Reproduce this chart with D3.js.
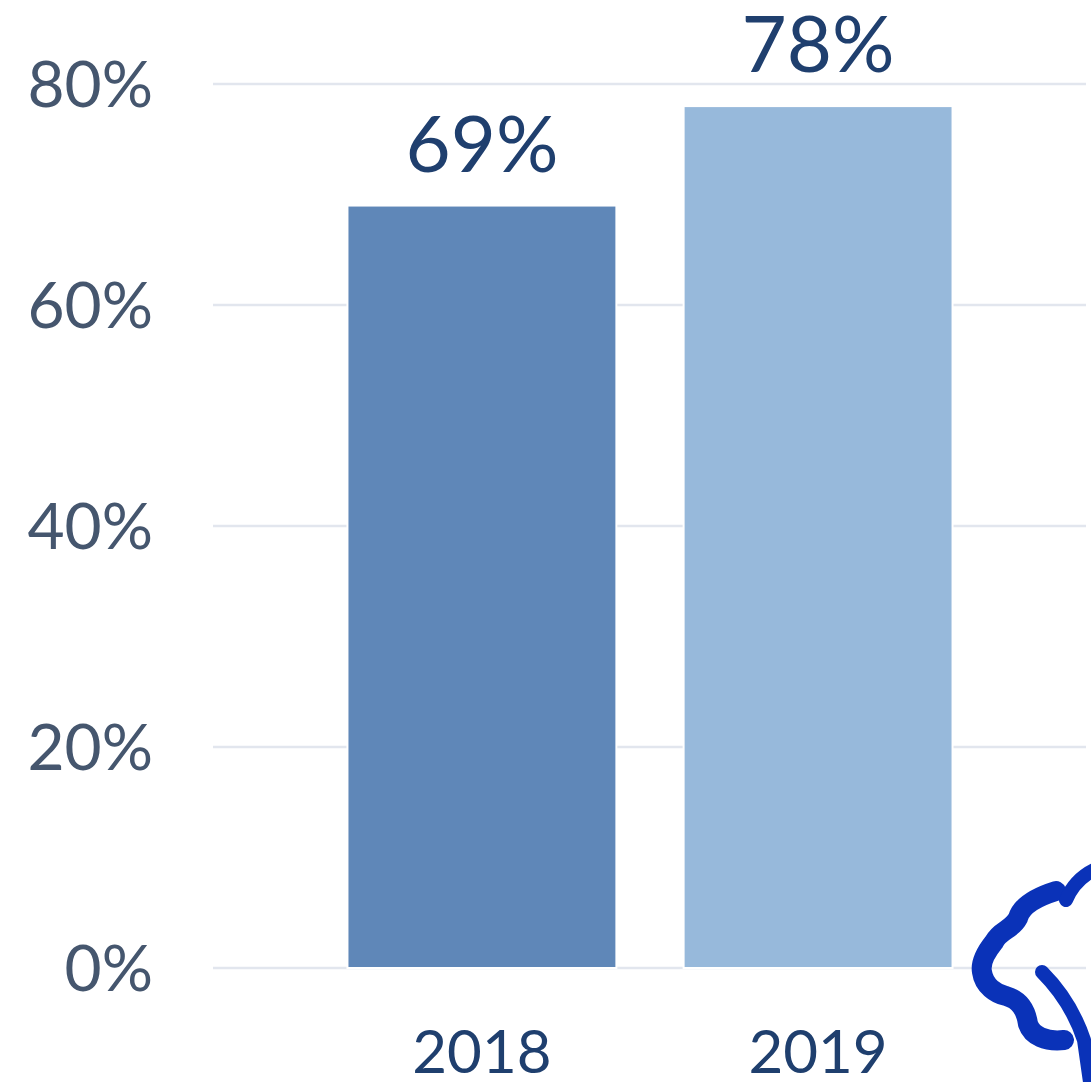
<!DOCTYPE html>
<html>
<head>
<meta charset="utf-8">
<script src="https://cdn.jsdelivr.net/npm/d3@7"></script>
<style>
  body { margin: 0; background: #fff; }
  svg { display: block; }
</style>
</head>
<body>
<script>
const width = 1091;
const height = 1082;

// data
const years = ['2018', '2019'];
const shares = [69, 78];
const yTicks = [0, 20, 40, 60, 80];
const barColors = ['#5f87b8', '#97b9db'];

const svg = d3.select('body').append('svg')
  .attr('width', width)
  .attr('height', height);

const x = d3.scaleBand()
  .domain(years)
  .range([213, 1087])
  .paddingInner(0.2)
  .paddingOuter(0.4);

const y = d3.scaleLinear()
  .domain([0, 80])
  .range([968, 84]);

// gridlines
svg.append('g')
  .selectAll('line')
  .data(yTicks)
  .enter().append('line')
    .attr('x1', 213)
    .attr('x2', 1086)
    .attr('y1', d => y(d))
    .attr('y2', d => y(d))
    .attr('stroke', '#e2e6ee')
    .attr('stroke-width', 2.5);

// y labels
svg.append('g')
  .selectAll('text')
  .data(yTicks)
  .enter().append('text')
    .attr('x', 153)
    .attr('y', d => y(d))
    .attr('dy', '0.36em')
    .attr('text-anchor', 'end')
    .attr('font-family', 'Lato, sans-serif')
    .attr('font-weight', 400)
    .attr('font-size', 64)
    .attr('fill', '#45566e')
    .text(d => d + '%');

// bars
const rows = years.map((yr, i) => ({ year: yr, value: shares[i], color: barColors[i] }));

svg.append('g')
  .selectAll('rect')
  .data(rows)
  .enter().append('rect')
    .attr('x', d => x(d.year))
    .attr('y', d => y(d.value))
    .attr('width', x.bandwidth())
    .attr('height', d => y(0) - y(d.value))
    .attr('fill', d => d.color)
    .attr('stroke', '#fff')
    .attr('stroke-width', 2);

// value labels
svg.append('g')
  .selectAll('text')
  .data(rows)
  .enter().append('text')
    .attr('x', d => x(d.year) + x.bandwidth() / 2)
    .attr('y', d => y(d.value) - 34)
    .attr('text-anchor', 'middle')
    .attr('font-family', 'Lato, sans-serif')
    .attr('font-weight', 400)
    .attr('font-size', 78)
    .attr('fill', '#1f3f6e')
    .text(d => d.value + '%');

// x labels
svg.append('g')
  .selectAll('text')
  .data(rows)
  .enter().append('text')
    .attr('x', d => x(d.year) + x.bandwidth() / 2)
    .attr('y', 1073)
    .attr('text-anchor', 'middle')
    .attr('font-family', 'Lato, sans-serif')
    .attr('font-weight', 400)
    .attr('font-size', 60)
    .attr('fill', '#1f3f6e')
    .text(d => d.year);

// logo (tree outline, cut off at the edge)
const logo = svg.append('g')
  .attr('fill', 'none')
  .attr('stroke', '#0a32b8')
  .attr('stroke-linecap', 'round');

logo.append('path')
  .attr('d', 'M1056,891 C1040,896 1022,904 1018,918 C1012,930 1000,930 994,942 C986,952 980,962 982,972 C984,986 996,994 1006,996 C1020,1000 1026,1010 1028,1024 C1032,1036 1046,1042 1064,1040')
  .attr('stroke-width', 20);

logo.append('path')
  .attr('d', 'M1066,900 C1072,886 1082,876 1094,870')
  .attr('stroke-width', 14);

logo.append('path')
  .attr('d', 'M1042,972 C1060,990 1074,1010 1084,1040 L1090,1082')
  .attr('stroke-width', 14);
</script>
</body>
</html>
